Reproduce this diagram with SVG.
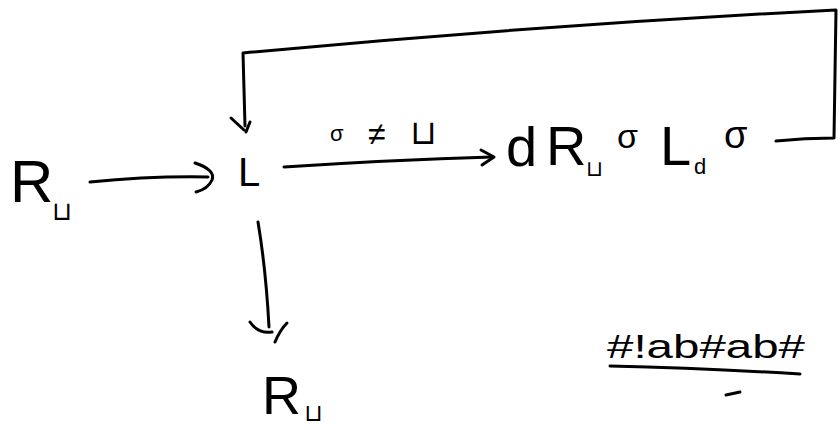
<svg xmlns="http://www.w3.org/2000/svg" width="840" height="430" viewBox="0 0 840 430">
<style>
.ln{fill:none;stroke:#000;stroke-width:3;stroke-linecap:round;stroke-linejoin:round}
.t{font-family:"Liberation Sans","DejaVu Sans",sans-serif;fill:#000}
</style>
<rect width="840" height="430" fill="#fff"/>
<g id="connectors">
  <path class="ln" d="M90,182 Q150,176 208,177"/>
  <path class="ln" d="M195,163 Q216,170 212,180 Q208,189 196,192"/>
  <path class="ln" d="M284,167 Q390,160 492,157"/>
  <path class="ln" d="M481,150 L494,157 L482,165"/>
  <path class="ln" d="M258,222 Q266,270 269,327"/>
  <path class="ln" d="M250,322 Q258,334 272,332"/>
  <path class="ln" d="M287,323 Q280,330 275,342"/>
  <path class="ln" d="M776,141 Q805,138 834,138 L836,10 Q540,25 243,53 L245,126"/>
  <path class="ln" d="M231,118 L244,130"/>
  <path class="ln" d="M250,122 L246,132"/>
  <g id="edge-label">
    <text class="t" x="330" y="141" font-size="22">σ</text>
    <text class="t" x="368" y="145" font-size="32">≠</text>
    <text class="t" x="410" y="144" font-size="34">⊔</text>
  </g>
</g>
<g id="node-Rw">
  <text class="t" x="10" y="202" font-size="60">R</text>
  <text class="t" x="52" y="220" font-size="26">⊔</text>
</g>
<g id="node-L">
  <text class="t" x="238" y="186" font-size="40">L</text>
</g>
<g id="node-dRsLs">
  <text class="t" x="506" y="166" font-size="56">d</text>
  <text class="t" x="546" y="165" font-size="56">R</text>
  <text class="t" x="586" y="176" font-size="22">⊔</text>
  <text class="t" x="617" y="148" font-size="34">σ</text>
  <text class="t" x="660" y="165" font-size="56">L</text>
  <text class="t" x="694" y="174" font-size="22">d</text>
  <text class="t" x="724" y="148" font-size="38">σ</text>
</g>
<g id="node-Ru">
  <text class="t" x="262" y="414" font-size="54">R</text>
  <text class="t" x="304" y="421" font-size="24">⊔</text>
</g>
<g id="node-tape">
  <text class="t" x="607" y="358" font-size="34" textLength="198" lengthAdjust="spacingAndGlyphs">#!ab#ab#</text>
  <path class="ln" d="M610,366 Q700,368 800,374"/>
  <path class="ln" d="M726,395 L740,392" stroke-width="2"/>
</g>
</svg>
